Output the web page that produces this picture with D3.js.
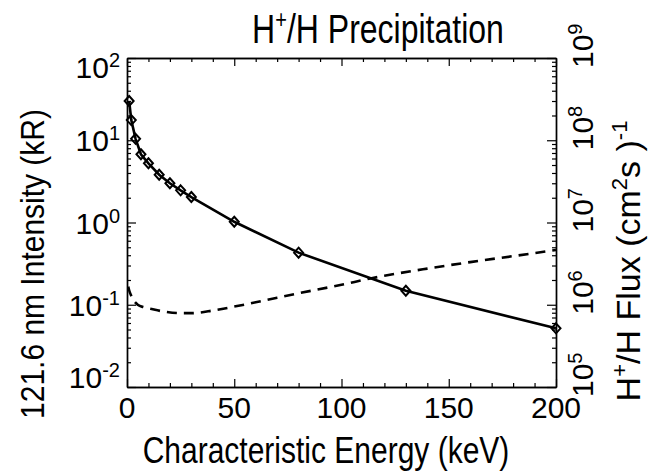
<!DOCTYPE html>
<html><head><meta charset="utf-8">
<script src="https://cdn.jsdelivr.net/npm/d3@7"></script>
<style>
html,body{margin:0;padding:0;background:#fff;}
text{font-family:"Liberation Sans",Arial,Helvetica,sans-serif;fill:#000;}
</style></head>
<body><svg id="c" width="649" height="474"></svg>
<script>
// ---- data ----
const energySolid = [1, 2, 4, 6.5, 10, 15, 20, 25, 30, 50, 80, 130, 200];
const intensity   = [30.0, 17.6, 10.4, 6.75, 5.25, 3.81, 3.0, 2.46, 2.04, 1.02, 0.43, 0.148, 0.0517];
const energyDash  = [0.6, 1, 2, 3, 5, 8, 12, 18, 25, 30, 40, 50, 60, 70, 80, 100, 114, 120, 140, 160, 180, 200];
const flux        = [1.66e6, 1.5e6, 1.28e6, 1.14e6, 1.0e6, 9.3e5, 8.8e5, 8.2e5, 7.9e5, 7.9e5, 8.5e5, 9.5e5, 1.07e6, 1.22e6, 1.38e6, 1.75e6, 2.1e6, 2.25e6, 2.75e6, 3.3e6, 3.9e6, 4.63e6];
const xTicks = [0, 50, 100, 150, 200];
const yLeftExp = [2, 1, 0, -1, -2];
const yRightExp = [9, 8, 7, 6, 5];
const titleText = "Precipitation";
const xTitle = "Characteristic Energy (keV)";
const yTitle = "121.6 nm Intensity (kR)";

// ---- layout ----
const L = 127, R = 556, T = 58, B = 387;
const svg = d3.select("#c");
const x = d3.scaleLinear().domain([0, 200]).range([L, R]);
const yL = d3.scaleLog().domain([1e-2, 1e2]).range([B, T]);
const yR = d3.scaleLog().domain([1e5, 1e9]).range([B, T]);

function minorLog(lo, hi) {
  const out = [];
  for (let e = lo; e < hi; e++) for (let k = 2; k <= 9; k++) out.push(k * Math.pow(10, e));
  return out;
}
const xMinor = d3.range(0, 201, 10).filter(v => v % 50 !== 0);

function styleAxis(g) {
  g.selectAll("path.domain").attr("stroke", "#000").attr("stroke-width", 1.4);
  g.selectAll(".tick line").attr("stroke", "#000").attr("stroke-width", 1.2);
  g.selectAll(".tick text").remove();
}
// bottom
svg.append("g").attr("transform", `translate(0,${B})`)
  .call(d3.axisBottom(x).tickValues(xTicks).tickSize(-8).tickSizeOuter(0)).call(styleAxis);
svg.append("g").attr("transform", `translate(0,${B})`)
  .call(d3.axisBottom(x).tickValues(xMinor).tickSize(-4).tickSizeOuter(0)).call(styleAxis);
// top
svg.append("g").attr("transform", `translate(0,${T})`)
  .call(d3.axisTop(x).tickValues(xTicks).tickSize(-8).tickSizeOuter(0)).call(styleAxis);
svg.append("g").attr("transform", `translate(0,${T})`)
  .call(d3.axisTop(x).tickValues(xMinor).tickSize(-4).tickSizeOuter(0)).call(styleAxis);
// left
svg.append("g").attr("transform", `translate(${L},0)`)
  .call(d3.axisLeft(yL).tickValues(yLeftExp.map(e => Math.pow(10, e))).tickSize(-9).tickSizeOuter(0)).call(styleAxis);
svg.append("g").attr("transform", `translate(${L},0)`)
  .call(d3.axisLeft(yL).tickValues(minorLog(-2, 2)).tickSize(-4).tickSizeOuter(0)).call(styleAxis);
// right
svg.append("g").attr("transform", `translate(${R},0)`)
  .call(d3.axisRight(yR).tickValues(yRightExp.map(e => Math.pow(10, e))).tickSize(-9).tickSizeOuter(0)).call(styleAxis);
svg.append("g").attr("transform", `translate(${R},0)`)
  .call(d3.axisRight(yR).tickValues(minorLog(5, 9)).tickSize(-4).tickSizeOuter(0)).call(styleAxis);

// tick labels
const FS = 30;
svg.append("g").selectAll("text").data(xTicks).join("text")
  .attr("x", d => x(d)).attr("y", B + 31).attr("text-anchor", "middle")
  .attr("font-size", FS).text(d => d);

function powLabel(sel, e) {
  sel.append("tspan").text("10");
  sel.append("tspan").attr("font-size", 20).attr("dy", -11).text(e);
}
yLeftExp.forEach((e, i) => {
  let cy = yL(Math.pow(10, e));
  if (i === 0) cy += 9; if (i === yLeftExp.length - 1) cy -= 10;
  const t = svg.append("text").attr("x", 120).attr("y", cy + 11)
    .attr("text-anchor", "end").attr("font-size", FS);
  powLabel(t, e);
});
yRightExp.forEach((e, i) => {
  const cy = yR(Math.pow(10, e)) + 10;
  const t = svg.append("text").attr("transform", `translate(593,${cy}) rotate(-90)`)
    .attr("text-anchor", "start").attr("font-size", FS);
  powLabel(t, e);
});

// title (glyphs in the reference are vertically elongated)
const tt = svg.append("text").attr("transform", "translate(378,43) scale(1,1.25)")
  .attr("text-anchor", "middle").attr("font-size", 32);
tt.append("tspan").text("H");
tt.append("tspan").attr("font-size", 20).attr("dy", -12).text("+");
tt.append("tspan").attr("dy", 12).text("/H " + titleText);

svg.append("text").attr("transform", "translate(326,463) scale(1,1.2)")
  .attr("text-anchor", "middle").attr("font-size", FS).text(xTitle);
svg.append("text").attr("transform", "translate(44,264) rotate(-90) scale(1,1.1)")
  .attr("text-anchor", "middle").attr("font-size", FS).text(yTitle);

const rt = svg.append("text").attr("transform", "translate(640,261) rotate(-90)")
  .attr("text-anchor", "middle").attr("font-size", 34);
rt.append("tspan").text("H");
rt.append("tspan").attr("font-size", 22).attr("dy", -13).text("+");
rt.append("tspan").attr("dy", 13).text("/H Flux (cm");
rt.append("tspan").attr("font-size", 22).attr("dy", -13).text("2");
rt.append("tspan").attr("dy", 13).text("s )");
rt.append("tspan").attr("font-size", 22).attr("dy", -13).text("-1");

// lines
const lineS = d3.line().x(d => x(d[0])).y(d => yL(d[1]));
const solidData = energySolid.map((e, i) => [e, intensity[i]]);
svg.append("path").datum(solidData).attr("d", lineS).attr("fill", "none")
  .attr("stroke", "#000").attr("stroke-width", 2.6);
svg.append("g").selectAll("path").data(solidData).join("path")
  .attr("transform", d => `translate(${x(d[0])},${yL(d[1])})`)
  .attr("d", "M0,-5L4.5,0L0,5L-4.5,0Z").attr("fill", "none")
  .attr("stroke", "#000").attr("stroke-width", 2);

const lineD = d3.line().curve(d3.curveMonotoneX).x(d => x(d[0])).y(d => yR(d[1]));
svg.append("path").datum(energyDash.map((e, i) => [e, flux[i]])).attr("d", lineD)
  .attr("fill", "none").attr("stroke", "#000").attr("stroke-width", 2.6)
  .attr("stroke-dasharray", "10,7");
</script></body></html>
